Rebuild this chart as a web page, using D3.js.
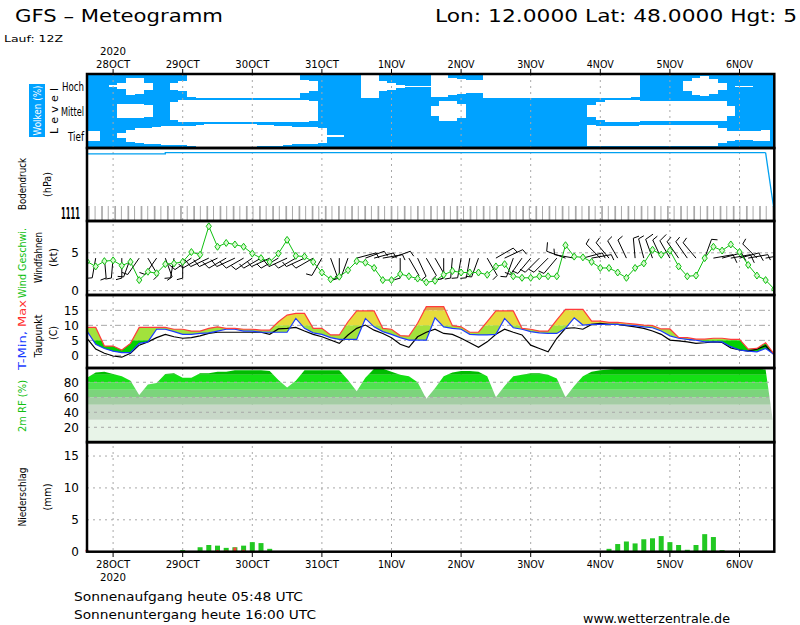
<!DOCTYPE html>
<html>
<head>
<meta charset="utf-8">
<script src="https://cdn.jsdelivr.net/npm/d3@7"></script>
<style>
body { margin: 0; background: #fff; }
svg { display: block; font-family: "DejaVu Sans", sans-serif; }
</style>
</head>
<body>
<svg id="chart" width="800" height="625"></svg>
<script>
// ---- data (3-hourly steps, run 27OCT 12Z, first step +3h) ----
var dayLabels = ["28OCT", "29OCT", "30OCT", "31OCT", "1NOV", "2NOV", "3NOV", "4NOV", "5NOV", "6NOV"];

// cloud cover %, high / mid / low
var hoch = [100,100,100,92,75,30,35,70,100,100, 70,60,10,8,8,8,8,8,8,8,
	8,8,8,8,8,50,60,100,100,100, 100,100,5,5,60,70,90,95,95,95,
	10,10,30,40,50,50,5,5,5,5, 5,5,5,5,5,5,5,5,5,5,
	5,5,5,10,100,100,100,100,100,60, 30,20,40,70,100,95,95,100,100,100];
var mittel = [100,100,100,100,45,45,45,50,100,100, 30,8,8,8,8,8,8,8,8,8,
	8,8,8,8,8,8,20,100,100,100, 100,100,100,100,100,100,100,100,100,100,
	60,20,20,40,100,100,100,100,100,100, 100,100,100,100,100,100,100,100,50,30,
	10,10,10,10,20,20,20,20,20,20, 20,20,20,20,60,100,100,100,100,100];
var tief = [60,60,100,100,80,50,40,35,30,25, 25,25,20,10,5,5,5,5,5,5,
	15,15,20,25,30,30,30,40,92,92, 100,100,100,100,100,100,100,100,100,100,
	100,100,100,100,100,100,100,100,100,100, 100,100,100,100,100,100,100,100,15,20,
	20,20,20,20,15,15,15,15,15,15, 15,15,15,40,60,65,65,60,55,100];

// surface pressure hPa (as drawn)
var pressure = [1003,1003,1003,1003,1003,1003,1003,1003,1003,1022,
	1022,1022,1022,1022,1022,1022,1022,1022,1022,1022, 1022,1022,1022,1022,1022,1022,1022,1022,1022,1022,
	1022,1022,1022,1022,1022,1022,1022,1022,1022,1022, 1022,1022,1022,1022,1022,1022,1022,1022,1022,1022,
	1022,1022,1022,1022,1022,1022,1022,1022,1022,1022, 1022,1022,1022,1022,1022,1022,1022,1022,1022,1022,
	1022,1022,1022,1022,1022,1022,1022,1022,1022,134];

// wind speed kt and direction deg
var windSpeed = [3.85,3.2,3.9,4.0,3.3,3.8,1.4,2.5,2.3,3.5, 3.6,3.8,5.1,4.75,8.5,5.8,6.3,6.1,5.8,4.9,
	4.3,3.8,4.9,6.7,4.6,4.5,3.8,2.4,1.5,1.85, 2.7,3.9,3.7,3.0,1.4,1.4,2.2,1.9,1.6,1.1,
	1.3,2.1,2.6,2.4,2.4,2.4,2.1,3.2,3.5,1.9, 1.7,1.7,1.9,1.9,1.9,6.0,4.5,4.4,3.8,3.0,
	3.0,2.4,1.7,3.0,3.6,5.4,4.75,5.3,3.2,1.9, 2.0,4.3,5.8,5.3,6.1,5.1,3.4,2.0,1.4,0.2];
var windDir = [180,190,175,185,180,200,215,150,215,160, 190,180,235,240,245,245,240,245,240,235,
	240,245,240,245,240,245,240,210,160,180, 200,75,70,75,80,70,180,150,155,150,
	150,180,185,190,190,200,150,60,65,200, 215,220,225,225,220,290,280,75,80,315,
	320,330,335,355,345,340,335,330,325,325, 320,20,80,75,80,75,80,315,80,75];

// temperature C
var tMax = [9.3,9.3,3.1,3.1,1.8,4.0,9.3,9.3,9.3,9.3, 8.7,8.7,8.1,8.1,9.0,9.5,9.0,9.0,8.7,8.7,
	8.4,8.4,11.2,13.4,14.0,14.0,9.0,9.0,6.8,6.8, 11.2,14.8,14.8,14.8,9.0,8.7,6.6,6.4,10.7,16.2,
	16.2,16.2,9.9,9.5,7.7,7.7,11.2,14.8,14.8,14.8, 9.0,8.7,8.1,8.1,11.8,15.3,15.3,15.3,11.4,11.4,
	11.0,11.0,10.7,10.4,10.1,9.9,8.8,8.8,6.0,5.9, 5.4,5.4,5.7,5.7,5.3,5.3,2.1,2.3,4.2,0.3];
var tMin = [8.1,3.7,2.3,1.4,0.9,0.9,4.0,4.5,8.7,8.7, 7.9,7.0,7.0,7.3,7.5,8.1,8.7,8.7,8.1,8.1,
	7.7,7.7,7.7,7.7,12.3,9.0,7.5,7.0,5.9,5.3, 5.3,5.3,12.3,9.5,7.9,7.0,5.9,5.1,5.1,5.1,
	12.5,9.5,9.0,8.7,7.0,6.8,6.8,7.0,12.3,9.2, 8.7,7.9,7.5,7.3,7.3,9.0,12.5,10.1,10.3,10.3,
	10.3,10.3,10.1,9.9,9.5,9.2,8.1,6.5,5.7,5.3, 5.1,4.5,4.5,4.5,2.9,1.8,1.4,1.2,2.3,0.3];
var dewPoint = [5.7,2.1,0.7,-0.2,-0.6,0.7,3.4,4.5,5.9,7.0, 6.2,5.7,5.9,6.5,7.3,7.7,7.7,7.7,7.7,7.7,
	7.7,7.0,8.8,9.0,9.3,8.1,7.0,6.2,5.1,4.0, 6.8,9.0,10.1,8.4,7.3,5.9,3.7,2.7,6.2,7.7,
	8.7,7.3,7.0,5.7,4.2,2.7,4.5,7.0,8.7,7.7, 6.8,3.4,2.3,1.2,5.7,9.0,9.2,8.7,10.3,10.7,
	10.3,10.3,9.9,9.5,9.0,8.1,7.0,5.1,4.8,4.5, 4.0,4.2,4.5,4.3,2.5,1.8,1.4,2.1,3.2,0.1];

// 2m relative humidity %
var relHum = [86,93,94,91,88,82,63,77,79,91, 92,86,86,92,92,94,94,96,96,96,
	96,95,83,73,82,96,96,96,96,96, 83,68,86,98,98,94,90,88,80,58,
	72,88,93,95,95,94,88,60,75,88, 90,92,92,90,85,60,75,88,94,96,
	97,98,98,98,98,98,98,98,98,98, 98,98,98,98,98,98,98,98,97,15];

// precipitation mm / 3h, total and convective part
var rain = [0,0,0,0,0,0,0,0,0,0, 0,0.25,0,0.7,1.05,0.95,0.6,0.7,0.95,1.5,
	1.35,0.45,0,0,0,0,0,0,0,0, 0,0,0,0,0,0,0,0,0,0,
	0,0,0,0,0,0,0,0,0,0, 0,0,0,0,0,0,0,0,0,0,
	0.45,1.2,1.6,1.3,1.95,2.1,2.45,1.5,1.05,0.3, 1.05,2.75,2.3,0.25,0,0,0,0,0,0];
var rainConv = [0.3,0,0,0,0,0,0,0,0,0, 0,0,0,0,0,0.25,0.2,0.65,0.3,0,
	0,0,0,0,0,0,0,0,0,0, 0,0,0,0,0,0,0,0,0,0,
	0,0,0,0,0,0,0,0,0,0, 0,0,0,0,0,0,0,0,0,0.1,
	0,0,0,0,0,0,0,0,0,0, 0,0.05,0.05,0,0,0,0,0,0,0];

var tempTicks = [0, 5, 10, 15];
var rhTicks = [20, 40, 60, 80];
var rainTicks = [0, 5, 10, 15];
var windTicks = [0, 5];

// ---- layout ----
var svg = d3.select("#chart");
var left = 87, right = 774.3;
var panels = {
	cloud: [74, 148], press: [148, 221], wind: [221, 295],
	temp: [295, 368], rh: [368, 442.3], rain: [442, 551.7]
};
var blue = "#00a2ff";
var grid = "#a8a8a8";

var t0 = Date.UTC(2020, 9, 27, 15);
var times = windSpeed.map(function (d, i) { return new Date(t0 + i * 3 * 3600 * 1000); });
var x = d3.scaleUtc().domain([times[0], times[times.length - 1]]).range([left, right]);
var step = x(times[1]) - x(times[0]);
var days = d3.utcDay.range(times[0], times[times.length - 1]);

var yPress = d3.scaleLinear().domain([0, 1030]).range([panels.press[1], 152]);
var yWind = d3.scaleLinear().domain([-0.57, 9.2]).range([panels.wind[1], panels.wind[0]]);
var yTemp = d3.scaleLinear().domain([-4.2, 20.1]).range([panels.temp[1], panels.temp[0]]);
var yRh = d3.scaleLinear().domain([0, 99]).range([panels.rh[1], panels.rh[0]]);
var yRain = d3.scaleLinear().domain([0, 17.2]).range([panels.rain[1], panels.rain[0]]);

var defs = svg.append("defs");
function clipFor(id, y0, y1) {
	defs.append("clipPath").attr("id", id).append("rect")
		.attr("x", left).attr("y", y0).attr("width", right - left).attr("height", y1 - y0);
	return "url(#" + id + ")";
}

// ---- cloud panel ----
var cloudClip = clipFor("clipCloud", panels.cloud[0], panels.cloud[1]);
var gCloud = svg.append("g").attr("clip-path", cloudClip).attr("shape-rendering", "crispEdges");
gCloud.append("rect").attr("x", left).attr("y", panels.cloud[0])
	.attr("width", right - left).attr("height", panels.cloud[1] - panels.cloud[0]).attr("fill", blue);
var bandH = (panels.cloud[1] - panels.cloud[0]) / 3;
var levels = [{ name: "Hoch", data: hoch }, { name: "Mittel", data: mittel }, { name: "Tief", data: tief }];
levels.forEach(function (lv, k) {
	var c = panels.cloud[0] + bandH * (k + 0.5);
	lv.center = c;
	gCloud.selectAll(null).data(lv.data).enter().append("rect")
		.attr("x", function (d, i) { return x(times[i]) - step / 2; })
		.attr("width", step + 0.3)
		.attr("y", function (d) { return c - (1 - d / 100) * bandH / 2; })
		.attr("height", function (d) { return (1 - d / 100) * bandH; })
		.attr("fill", "#fff");
});

// ---- vertical day grid in all panels ----
var gGrid = svg.append("g");
gGrid.selectAll("line").data(days).enter().append("line")
	.attr("x1", function (d) { return x(d); }).attr("x2", function (d) { return x(d); })
	.attr("y1", panels.cloud[0]).attr("y2", panels.rain[1])
	.attr("stroke", grid).attr("stroke-width", 1).attr("stroke-dasharray", "2,4");

// ---- pressure panel ----
var tickX = d3.scaleLinear().domain([0, 104]).range([left + 1, right - 2]);
svg.append("g").selectAll("rect").data(d3.range(105)).enter().append("rect")
	.attr("x", function (d) { return tickX(d); })
	.attr("width", function (d) { return d % 2 ? 1 : 1.7; })
	.attr("y", 206).attr("height", panels.press[1] - 206)
	.attr("fill", "#aaaaaa");
svg.append("path").datum(pressure)
	.attr("fill", "none").attr("stroke", "#00a0f0").attr("stroke-width", 1.3)
	.attr("d", d3.line().curve(d3.curveStepAfter)
		.x(function (d, i) { return x(times[i]); })
		.y(function (d) { return yPress(d); })
		.defined(function (d, i) { return i < pressure.length - 1; }));
svg.append("line")
	.attr("x1", x(times[78])).attr("y1", yPress(pressure[78]))
	.attr("x2", x(times[79])).attr("y2", yPress(pressure[79]))
	.attr("stroke", "#00a0f0").attr("stroke-width", 1.3);

// ---- wind panel ----
var gWind = svg.append("g").attr("clip-path", clipFor("clipWind", panels.wind[0], panels.wind[1]));
gWind.selectAll("line.g").data(windTicks).enter().append("line")
	.attr("x1", left).attr("x2", right)
	.attr("y1", function (d) { return yWind(d); }).attr("y2", function (d) { return yWind(d); })
	.attr("stroke", grid).attr("stroke-dasharray", "3,3");
var barbY = yWind(4.3);
windDir.forEach(function (dir, i) {
	var a = dir * Math.PI / 180, L = 20;
	var x0 = x(times[i]), x1 = x0 + Math.sin(a) * L, y1 = barbY - Math.cos(a) * L;
	var fl = windSpeed[i] >= 5 ? 9 : 6, a2 = a + 75 * Math.PI / 180;
	gWind.append("path")
		.attr("d", "M" + x0 + "," + barbY + "L" + x1 + "," + y1 +
			"L" + (x1 + Math.sin(a2) * fl) + "," + (y1 - Math.cos(a2) * fl))
		.attr("fill", "none").attr("stroke", "#000").attr("stroke-width", 1);
});
gWind.append("path").datum(windSpeed)
	.attr("fill", "none").attr("stroke", "#10c010").attr("stroke-width", 1)
	.attr("d", d3.line().x(function (d, i) { return x(times[i]); }).y(function (d) { return yWind(d); }));
gWind.selectAll("path.dm").data(windSpeed).enter().append("path")
	.attr("class", "dm")
	.attr("transform", function (d, i) { return "translate(" + x(times[i]) + "," + yWind(d) + ")"; })
	.attr("d", "M0,-3.5L2.6,0L0,3.5L-2.6,0Z")
	.attr("fill", "#d8f8d0").attr("stroke", "#10c010").attr("stroke-width", 1);

// ---- temperature panel ----
var gTemp = svg.append("g");
gTemp.selectAll("line").data(tempTicks).enter().append("line")
	.attr("x1", left).attr("x2", right)
	.attr("y1", function (d) { return yTemp(d); }).attr("y2", function (d) { return yTemp(d); })
	.attr("stroke", function (d) { return d === 0 ? "#999" : grid; })
	.attr("stroke-dasharray", "6,3,2,3");
var tempBands = [
	{ lo: -10, hi: 5, color: "#00d000" },
	{ lo: 5, hi: 10, color: "#a2e23c" },
	{ lo: 10, hi: 15, color: "#e6dc3c" },
	{ lo: 15, hi: 30, color: "#e0a448" }
];
var tempArea = d3.area()
	.x(function (d, i) { return x(times[i]); })
	.y0(function (d, i) { return yTemp(tMin[i]); })
	.y1(function (d) { return yTemp(d); });
tempBands.forEach(function (b, k) {
	var y0 = Math.max(yTemp(b.hi), panels.temp[0]), y1 = Math.min(yTemp(b.lo), panels.temp[1]);
	gTemp.append("path").datum(tMax)
		.attr("clip-path", clipFor("clipT" + k, y0, y1))
		.attr("fill", b.color).attr("d", tempArea);
});
function tLine(arr, color) {
	gTemp.append("path").datum(arr)
		.attr("fill", "none").attr("stroke", color).attr("stroke-width", 1.2)
		.attr("d", d3.line().x(function (d, i) { return x(times[i]); }).y(function (d) { return yTemp(d); }));
}
tLine(dewPoint, "#000");
tLine(tMin, "#1a3cff");
tLine(tMax, "#ff3c3c");

// ---- relative humidity panel ----
var gRh = svg.append("g");
var rhBands = [
	{ lo: 0, hi: 30, color: "#e8f4e8" },
	{ lo: 30, hi: 50, color: "#c8d8c8" },
	{ lo: 50, hi: 60, color: "#a4cca4" },
	{ lo: 60, hi: 70, color: "#7cd47c" },
	{ lo: 70, hi: 80, color: "#50e250" },
	{ lo: 80, hi: 90, color: "#14e014" },
	{ lo: 90, hi: 101, color: "#00bc00" }
];
var rhArea = d3.area()
	.x(function (d, i) { return x(times[i]); })
	.y0(yRh(0)).y1(function (d) { return yRh(d); });
rhBands.forEach(function (b, k) {
	var y0 = Math.max(yRh(b.hi), panels.rh[0]), y1 = yRh(b.lo);
	gRh.append("path").datum(relHum)
		.attr("clip-path", clipFor("clipR" + k, y0, y1))
		.attr("fill", b.color).attr("d", rhArea);
});
gRh.selectAll("line").data(rhTicks).enter().append("line")
	.attr("x1", left).attr("x2", right)
	.attr("y1", function (d) { return yRh(d); }).attr("y2", function (d) { return yRh(d); })
	.attr("stroke", grid).attr("stroke-dasharray", "3,4");

// ---- precipitation panel ----
var gRain = svg.append("g");
gRain.selectAll("line").data(rainTicks.slice(1)).enter().append("line")
	.attr("x1", left).attr("x2", right)
	.attr("y1", function (d) { return yRain(d); }).attr("y2", function (d) { return yRain(d); })
	.attr("stroke", grid).attr("stroke-dasharray", "2,4");
gRain.selectAll("rect.r").data(rain).enter().append("rect")
	.attr("x", function (d, i) { return x(times[i]) - 2.5; }).attr("width", 5)
	.attr("y", function (d) { return yRain(d); })
	.attr("height", function (d) { return yRain(0) - yRain(d); })
	.attr("fill", "#22c822");
gRain.selectAll("rect.c").data(rainConv).enter().append("rect")
	.attr("x", function (d, i) { return x(times[i]) - 1.5; }).attr("width", 3)
	.attr("y", function (d) { return yRain(d); })
	.attr("height", function (d) { return yRain(0) - yRain(d); })
	.attr("fill", "#ff4040");

// ---- panel borders ----
Object.keys(panels).forEach(function (k) {
	var p = panels[k];
	svg.append("rect").attr("x", left).attr("y", p[0])
		.attr("width", right - left).attr("height", p[1] - p[0])
		.attr("fill", "none").attr("stroke", "#000").attr("stroke-width", 2.5);
});

// ---- time axes (top and bottom) ----
var dayG = svg.append("g").attr("font-size", 11).attr("fill", "#000");
days.forEach(function (d, i) {
	var lab = dayLabels[i], w = lab.length * 7 - 1;
	dayG.append("line").attr("x1", x(d)).attr("x2", x(d)).attr("y1", 69).attr("y2", 74)
		.attr("stroke", "#000");
	dayG.append("line").attr("x1", x(d)).attr("x2", x(d)).attr("y1", 552).attr("y2", 557)
		.attr("stroke", "#000");
	dayG.append("text").attr("x", x(d)).attr("y", 68).attr("text-anchor", "middle")
		.attr("textLength", w).attr("lengthAdjust", "spacingAndGlyphs").text(lab);
	dayG.append("text").attr("x", x(d)).attr("y", 568).attr("text-anchor", "middle")
		.attr("textLength", w).attr("lengthAdjust", "spacingAndGlyphs").text(lab);
});
dayG.append("text").attr("x", x(days[0])).attr("y", 55).attr("text-anchor", "middle")
	.attr("textLength", 26).attr("lengthAdjust", "spacingAndGlyphs").text("2020");
dayG.append("text").attr("x", x(days[0])).attr("y", 581).attr("text-anchor", "middle")
	.attr("textLength", 26).attr("lengthAdjust", "spacingAndGlyphs").text("2020");

// ---- value axes ----
function valueAxis(scale, ticks) {
	var g = svg.append("g").attr("transform", "translate(" + left + ",0)")
		.call(d3.axisLeft(scale).tickValues(ticks).tickSize(0).tickPadding(8).tickFormat(d3.format("d")));
	g.select(".domain").remove();
	g.selectAll("text").attr("font-size", 12).attr("font-family", "DejaVu Sans, sans-serif")
		.attr("fill", "#000");
}
valueAxis(yWind, windTicks);
valueAxis(yTemp, tempTicks);
valueAxis(yRh, rhTicks);
valueAxis(yRain, rainTicks);

// ---- labels ----
function rotText(cx, cy, txt, color, len, size) {
	return svg.append("text").attr("transform", "translate(" + cx + "," + cy + ") rotate(-90)")
		.attr("text-anchor", "middle").attr("dominant-baseline", "central")
		.attr("font-size", size || 11).attr("fill", color)
		.attr("textLength", len).attr("lengthAdjust", "spacingAndGlyphs").text(txt);
}
svg.append("rect").attr("x", 29).attr("y", 84).attr("width", 16).attr("height", 53).attr("fill", blue);
rotText(37, 110.5, "Wolken (%)", "#fff", 50);
rotText(54, 111, "Level", "#000", 46).attr("lengthAdjust", "spacing");
levels.forEach(function (lv) {
	var w = { Hoch: 22, Mittel: 23, Tief: 16 }[lv.name];
	svg.append("text").attr("x", 84).attr("y", lv.center + 1).attr("text-anchor", "end")
		.attr("dominant-baseline", "central").attr("font-size", 12)
		.attr("textLength", w).attr("lengthAdjust", "spacingAndGlyphs").text(lv.name);
});
rotText(22, 184, "Bodendruck", "#000", 52);
rotText(47, 184.5, "(hPa)", "#000", 25);
svg.append("text").attr("x", 61).attr("y", 219).attr("font-size", 15).attr("font-weight", "bold")
	.attr("textLength", 19).attr("lengthAdjust", "spacingAndGlyphs").text("1111");
rotText(22, 263, "Wind Geschwi.", "#10c010", 70);
rotText(38, 257.5, "Windfahnen", "#000", 51);
rotText(53, 257.5, "(kt)", "#000", 19);
var tm = rotText(22, 335, "", "#000", 70);
tm.append("tspan").attr("fill", "#1a3cff").text("T-Min, ");
tm.append("tspan").attr("fill", "#ff3030").text("Max");
rotText(38, 336, "Taupunkt", "#000", 43);
rotText(53, 333, "(C)", "#000", 14);
rotText(22, 406, "2m RF (%)", "#10c010", 52);
rotText(22.5, 497, "Niederschlag", "#000", 59);
rotText(47.5, 497, "(mm)", "#000", 27);

// ---- titles and footer ----
function plain(xp, yp, txt, size, len) {
	svg.append("text").attr("x", xp).attr("y", yp).attr("font-size", size)
		.attr("textLength", len).attr("lengthAdjust", "spacingAndGlyphs").text(txt);
}
plain(15, 22, "GFS \u2013 Meteogramm", 17, 208);
plain(435, 22, "Lon: 12.0000 Lat: 48.0000 Hgt: 5", 17, 362);
plain(4, 42, "Lauf: 12Z", 9, 59);
plain(74, 601, "Sonnenaufgang heute 05:48 UTC", 13, 229);
plain(74, 619, "Sonnenuntergang heute 16:00 UTC", 13, 242);
plain(583, 623, "www.wetterzentrale.de", 13, 147);
</script>
</body>
</html>
